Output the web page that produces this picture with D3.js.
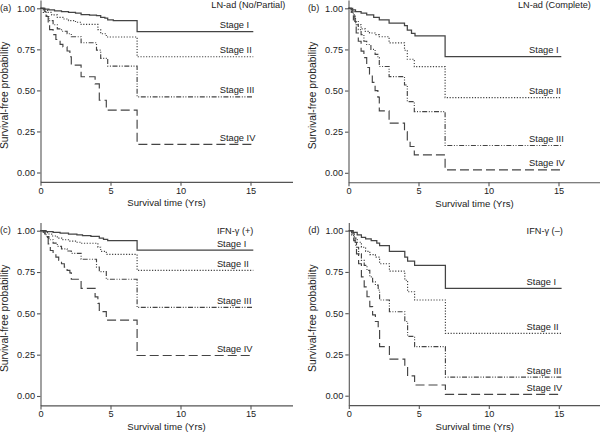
<!DOCTYPE html>
<html><head><meta charset="utf-8">
<script src="https://cdn.jsdelivr.net/npm/d3@7"></script>
<style>html,body{margin:0;padding:0;background:#fff;}svg{display:block;}</style>
</head><body>
<svg id="chart" width="600" height="433"></svg>
<script>
// ---------- data ----------
const stageNames = ["Stage I", "Stage II", "Stage III", "Stage IV"];
const panelTags = ["(a)", "(b)", "(c)", "(d)"];
const panelTitles = ["LN-ad (No/Partial)", "LN-ad (Complete)", "IFN-\u03b3 (+)", "IFN-\u03b3 (\u2013)"];
const xTicks = [0, 5, 10, 15];
const yTicks = [0, 0.25, 0.5, 0.75, 1];
const followUpEnd = 15.2;
const xLabel = "Survival time (Yrs)";
const yLabel = "Survival-free probability";

// [time (yrs), survival probability] step points
const panelA_I   = [[0,1],[0.3,0.995],[0.6,0.99],[1.0,0.985],[1.5,0.98],[2.0,0.975],[2.5,0.97],[2.9,0.962],[3.5,0.958],[4.0,0.955],[4.3,0.945],[4.6,0.94],[4.8,0.93],[5.2,0.925],[6.9,0.858]];
const panelA_II  = [[0,1],[0.2,0.99],[0.5,0.975],[0.8,0.96],[1.2,0.945],[1.6,0.935],[2.0,0.925],[2.5,0.915],[2.9,0.902],[4.1,0.87],[4.3,0.845],[4.7,0.825],[6.9,0.705]];
const panelA_III = [[0,1],[0.2,0.975],[0.4,0.95],[0.6,0.925],[0.9,0.9],[1.2,0.875],[1.5,0.86],[1.9,0.845],[2.2,0.827],[2.9,0.79],[4.0,0.745],[4.3,0.695],[4.8,0.648],[6.9,0.461]];
const panelA_IV  = [[0,1],[0.3,0.98],[0.45,0.95],[0.55,0.9],[0.65,0.87],[0.9,0.84],[1.1,0.81],[1.4,0.78],[1.6,0.765],[1.9,0.74],[2.1,0.705],[2.2,0.654],[2.9,0.583],[3.9,0.54],[4.2,0.44],[4.7,0.38],[6.9,0.171]];

const panelB_I   = [[0,1],[0.2,0.99],[0.5,0.98],[0.9,0.97],[1.3,0.96],[1.8,0.945],[2.2,0.93],[2.9,0.91],[4.0,0.895],[4.2,0.868],[4.5,0.848],[4.75,0.832],[6.9,0.706]];
const panelB_II  = [[0,1],[0.2,0.98],[0.4,0.95],[0.5,0.92],[0.7,0.9],[0.9,0.875],[1.2,0.86],[1.5,0.85],[1.9,0.84],[2.2,0.827],[2.9,0.79],[4.0,0.745],[4.2,0.69],[4.7,0.645],[6.9,0.457]];
const panelB_III = [[0,1],[0.2,0.97],[0.35,0.93],[0.5,0.9],[0.7,0.87],[0.9,0.84],[1.1,0.8],[1.3,0.78],[1.6,0.75],[1.9,0.72],[2.1,0.7],[2.2,0.646],[2.9,0.585],[4.0,0.534],[4.2,0.433],[4.7,0.372],[6.9,0.166]];
const panelB_IV  = [[0,1],[0.3,0.97],[0.45,0.92],[0.55,0.85],[0.7,0.8],[0.9,0.74],[1.1,0.7],[1.3,0.64],[1.5,0.6],[1.7,0.55],[1.9,0.5],[2.1,0.46],[2.2,0.376],[2.9,0.302],[4.0,0.251],[4.2,0.2],[4.4,0.16],[4.7,0.109],[6.9,0.018]];

const panelC_I   = [[0,1],[0.4,0.995],[0.9,0.99],[1.4,0.985],[2.0,0.98],[2.6,0.975],[3.0,0.97],[3.6,0.965],[4.2,0.955],[4.5,0.948],[4.8,0.94],[6.9,0.883]];
const panelC_II  = [[0,1],[0.2,0.993],[0.5,0.98],[0.8,0.968],[1.2,0.955],[1.6,0.945],[2.0,0.937],[2.5,0.93],[2.9,0.924],[4.1,0.9],[4.3,0.875],[4.7,0.857],[6.9,0.76]];
const panelC_III = [[0,1],[0.2,0.985],[0.4,0.965],[0.6,0.945],[0.9,0.925],[1.2,0.905],[1.5,0.89],[1.9,0.877],[2.2,0.863],[2.9,0.827],[4.0,0.78],[4.2,0.752],[4.7,0.706],[6.9,0.536]];
const panelC_IV  = [[0,1],[0.3,0.98],[0.45,0.96],[0.55,0.92],[0.7,0.88],[0.9,0.86],[1.1,0.84],[1.3,0.82],[1.5,0.8],[1.7,0.78],[1.9,0.76],[2.1,0.745],[2.2,0.706],[2.9,0.651],[3.9,0.6],[4.1,0.56],[4.2,0.51],[4.7,0.459],[6.9,0.245]];

const panelD_I   = [[0,1],[0.3,0.99],[0.6,0.975],[0.9,0.96],[1.2,0.95],[1.6,0.94],[2.0,0.925],[2.2,0.91],[2.9,0.875],[4.0,0.84],[4.2,0.815],[4.7,0.79],[6.9,0.65]];
const panelD_II  = [[0,1],[0.2,0.98],[0.4,0.955],[0.6,0.93],[0.9,0.9],[1.2,0.875],[1.5,0.855],[1.9,0.84],[2.2,0.8],[2.9,0.755],[4.0,0.7],[4.2,0.63],[4.7,0.58],[6.9,0.378]];
const panelD_III = [[0,1],[0.2,0.97],[0.35,0.94],[0.5,0.9],[0.7,0.86],[0.9,0.82],[1.1,0.79],[1.3,0.76],[1.5,0.72],[1.7,0.69],[1.9,0.67],[2.1,0.64],[2.2,0.58],[2.9,0.509],[4.0,0.45],[4.2,0.36],[4.7,0.297],[6.9,0.113]];
const panelD_IV  = [[0,1],[0.3,0.98],[0.45,0.93],[0.55,0.86],[0.7,0.8],[0.9,0.72],[1.1,0.66],[1.3,0.6],[1.5,0.54],[1.7,0.49],[1.9,0.45],[2.1,0.4],[2.2,0.297],[2.9,0.222],[4.0,0.18],[4.2,0.12],[4.7,0.065],[6.9,0.008]];

const panelCurves = [
  [panelA_I, panelA_II, panelA_III, panelA_IV],
  [panelB_I, panelB_II, panelB_III, panelB_IV],
  [panelC_I, panelC_II, panelC_III, panelC_IV],
  [panelD_I, panelD_II, panelD_III, panelD_IV]
];

// ---------- layout / style ----------
const layout = [
  {x0: 40.5, y1: 8.3,   y0: 172.5, titleX: 12.2, titleDy: 0,   labelX: 12.8},
  {x0: 348.5, y1: 8.3,  y0: 172.8, titleX: 12.1, titleDy: 0,   labelX: 12.9},
  {x0: 40.5, y1: 230.7, y0: 396,   titleX: 12.6, titleDy: 3.3, labelX: 12.6},
  {x0: 348.8, y1: 230.7, y0: 395.7, titleX: 12.7, titleDy: 3.3, labelX: 12.7}
];
const dashes = [null, "1.2,1.6", "5,1.6,1,1.6,1,1.6", "9,4"];
const lineColor = "#444";
const textColor = "#222";
const FONT = "'Liberation Sans', Arial, Helvetica, sans-serif";

const svg = d3.select("#chart");

layout.forEach((L, i) => {
  const unit = L.y0 - L.y1;
  const x = d3.scaleLinear().domain([0, 18]).range([L.x0, L.x0 + 14 * 18]);
  const y = d3.scaleLinear().domain([-0.057, 1.05]).range([L.y0 + 0.057 * unit, L.y1 - 0.05 * unit]);
  const g = svg.append("g");

  // axes
  const xAxis = d3.axisBottom(x).tickValues(xTicks).tickSize(4).tickSizeOuter(0).tickPadding(1.5).tickFormat(d3.format("d"));
  const yAxis = d3.axisLeft(y).tickValues(yTicks).tickSize(3.5).tickSizeOuter(0).tickPadding(2).tickFormat(d3.format(".2f"));
  const gx = g.append("g").attr("transform", `translate(0,${y(-0.057)})`).call(xAxis);
  const gy = g.append("g").attr("transform", `translate(${x(0)},0)`).call(yAxis);
  [gx, gy].forEach(a => {
    a.selectAll("path,line").attr("stroke", "#555").attr("stroke-width", 1.1);
    a.selectAll("text").attr("fill", textColor).style("font-family", FONT).style("font-size", "9.2px");
  });

  // curves
  const line = d3.line().x(d => x(d[0])).y(d => y(d[1])).curve(d3.curveStepAfter);
  panelCurves[i].forEach((pts, k) => {
    const full = pts.concat([[followUpEnd, pts[pts.length - 1][1]]]);
    g.append("path").datum(full)
      .attr("d", line)
      .attr("fill", "none")
      .attr("stroke", lineColor)
      .attr("stroke-width", k === 0 ? 1.25 : 1.15)
      .attr("stroke-dasharray", dashes[k]);
    const last = pts[pts.length - 1][1];
    g.append("text")
      .attr("x", x(L.labelX)).attr("y", y(last) - 3.5)
      .attr("fill", textColor).style("font-family", FONT).style("font-size", "9.3px")
      .text(stageNames[k]);
  });

  // panel tag and title
  g.append("text").attr("x", L.x0 - 40.5).attr("y", y(1) + 2.5)
    .attr("fill", textColor).style("font-family", FONT).style("font-size", "9.2px")
    .text(panelTags[i]);
  g.append("text").attr("x", x(L.titleX)).attr("y", L.y1 + L.titleDy)
    .attr("fill", textColor).style("font-family", FONT).style("font-size", "9.2px")
    .text(panelTitles[i]);

  // axis titles
  g.append("text").attr("x", x(9)).attr("y", y(-0.057) + 24.5)
    .attr("text-anchor", "middle")
    .attr("fill", textColor).style("font-family", FONT).style("font-size", "9.6px")
    .text(xLabel);
  g.append("text")
    .attr("transform", `translate(${L.x0 - 32.5},${y(0.47)}) rotate(-90)`)
    .attr("text-anchor", "middle")
    .attr("fill", textColor).style("font-family", FONT).style("font-size", "10.3px")
    .text(yLabel);
});
</script>
</body></html>
